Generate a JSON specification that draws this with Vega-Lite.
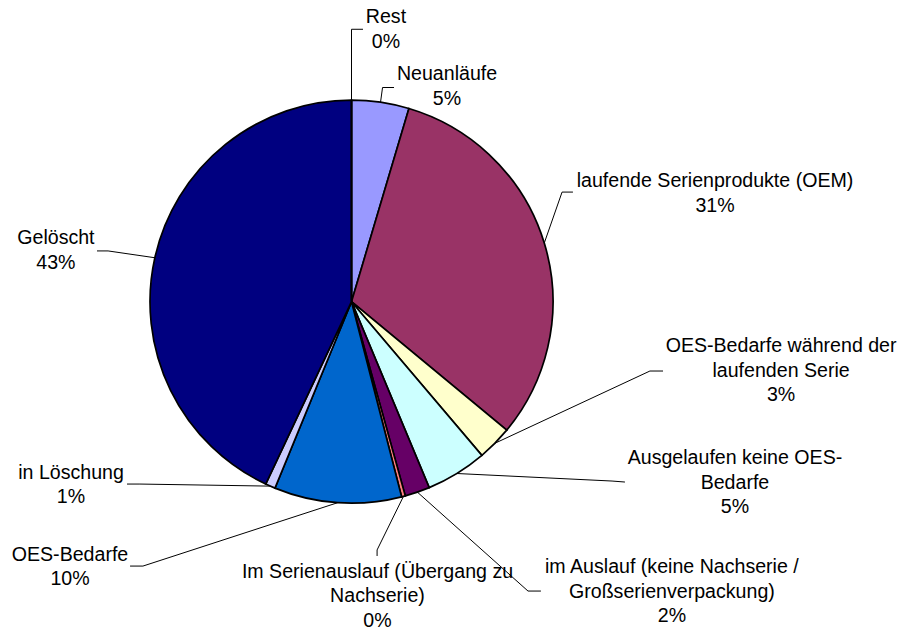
{
  "$schema": "https://vega.github.io/schema/vega-lite/v6.json",
  "width": 898,
  "height": 630,
  "autosize": "none",
  "padding": 0,
  "background": "white",
  "config": {"view": {"stroke": null}},
  "data": {
    "values": [
      {"order": 0, "name": "Neuanläufe", "share": 0.046},
      {"order": 1, "name": "laufende Serienprodukte (OEM)", "share": 0.314},
      {"order": 2, "name": "OES-Bedarfe während der\nlaufenden Serie", "share": 0.028},
      {"order": 3, "name": "Ausgelaufen keine OES-\nBedarfe", "share": 0.049},
      {"order": 4, "name": "im Auslauf (keine Nachserie /\nGroßserienverpackung)", "share": 0.02},
      {"order": 5, "name": "Im Serienauslauf (Übergang zu\nNachserie)", "share": 0.003},
      {"order": 6, "name": "OES-Bedarfe", "share": 0.102},
      {"order": 7, "name": "in Löschung", "share": 0.008},
      {"order": 8, "name": "Gelöscht", "share": 0.43},
      {"order": 9, "name": "Rest", "share": 0}
    ]
  },
  "transform": [
    {"window": [{"op": "sum", "field": "share", "as": "cum"}], "sort": [{"field": "order"}], "frame": [null, 0]},
    {"calculate": "2 * PI * (datum.cum - datum.share / 2)", "as": "mid"},
    {"calculate": "sin(datum.mid)", "as": "rimX"},
    {"calculate": "cos(datum.mid)", "as": "rimY"},
    {"calculate": "datum.name + '\\n' + format(datum.share, '.0%')", "as": "label"},
    {"calculate": "[[0.474,1.128,0.154,1.063,0.211,1.063],[1.804,0.599,1.045,0.544,1.099,0.544],[2.132,-0.222,1.481,-0.344,1.546,-0.344],[1.903,-0.776,1.293,-0.890,1.357,-0.895],[1.590,-1.317,0.876,-1.436,0.940,-1.436],[0.129,-1.339,0.127,-1.232,0.127,-1.262],[-1.397,-1.255,-1.035,-1.312,-1.099,-1.312],[-1.392,-0.848,-1.050,-0.905,-1.114,-0.905],[-1.467,0.314,-1.208,0.252,-1.263,0.252],[0.171,1.411,0,1.352,0.057,1.352]][datum.order]", "as": "callout"},
    {"calculate": "datum.callout[0]", "as": "lx"},
    {"calculate": "datum.callout[1]", "as": "ly"},
    {"calculate": "datum.callout[2]", "as": "ex"},
    {"calculate": "datum.callout[3]", "as": "ey"},
    {"calculate": "datum.callout[4]", "as": "tx"},
    {"calculate": "datum.callout[5]", "as": "ty"}
  ],
  "layer": [
    {
      "mark": {"type": "arc", "outerRadius": 201.5, "stroke": "black", "strokeWidth": 1.7},
      "encoding": {
        "x": {"datum": 0, "type": "quantitative", "scale": {"domain": [-1.74442, 2.71216], "nice": false, "zero": false}, "axis": null},
        "y": {"datum": 0, "type": "quantitative", "scale": {"domain": [-1.62928, 1.49727], "nice": false, "zero": false}, "axis": null},
        "theta": {"field": "share", "type": "quantitative", "stack": true, "scale": {"domain": [0, 1]}},
        "order": {"field": "order", "type": "quantitative"},
        "color": {
          "field": "order",
          "type": "nominal",
          "scale": {
            "domain": [0, 1, 2, 3, 4, 5, 6, 7, 8, 9],
            "range": ["#9999FF", "#993366", "#FFFFCC", "#CCFFFF", "#660066", "#FF8080", "#0066CC", "#CCCCFF", "#000080", "#FF00FF"]
          },
          "legend": null
        }
      }
    },
    {
      "mark": {"type": "rule", "color": "black", "strokeWidth": 1},
      "encoding": {
        "x": {"field": "rimX", "type": "quantitative", "scale": {"domain": [-1.74442, 2.71216], "nice": false, "zero": false}, "axis": null},
        "y": {"field": "rimY", "type": "quantitative", "scale": {"domain": [-1.62928, 1.49727], "nice": false, "zero": false}, "axis": null},
        "x2": {"field": "ex"},
        "y2": {"field": "ey"}
      }
    },
    {
      "mark": {"type": "rule", "color": "black", "strokeWidth": 1},
      "encoding": {
        "x": {"field": "ex", "type": "quantitative", "scale": {"domain": [-1.74442, 2.71216], "nice": false, "zero": false}, "axis": null},
        "y": {"field": "ey", "type": "quantitative", "scale": {"domain": [-1.62928, 1.49727], "nice": false, "zero": false}, "axis": null},
        "x2": {"field": "tx"},
        "y2": {"field": "ty"}
      }
    },
    {
      "mark": {"type": "text", "font": "Liberation Sans", "fontSize": 19.6, "lineHeight": 24.5, "lineBreak": "\n", "align": "center", "baseline": "middle", "color": "black"},
      "encoding": {
        "x": {"field": "lx", "type": "quantitative", "scale": {"domain": [-1.74442, 2.71216], "nice": false, "zero": false}, "axis": null},
        "y": {"field": "ly", "type": "quantitative", "scale": {"domain": [-1.62928, 1.49727], "nice": false, "zero": false}, "axis": null},
        "text": {"field": "label"}
      }
    }
  ]
}
